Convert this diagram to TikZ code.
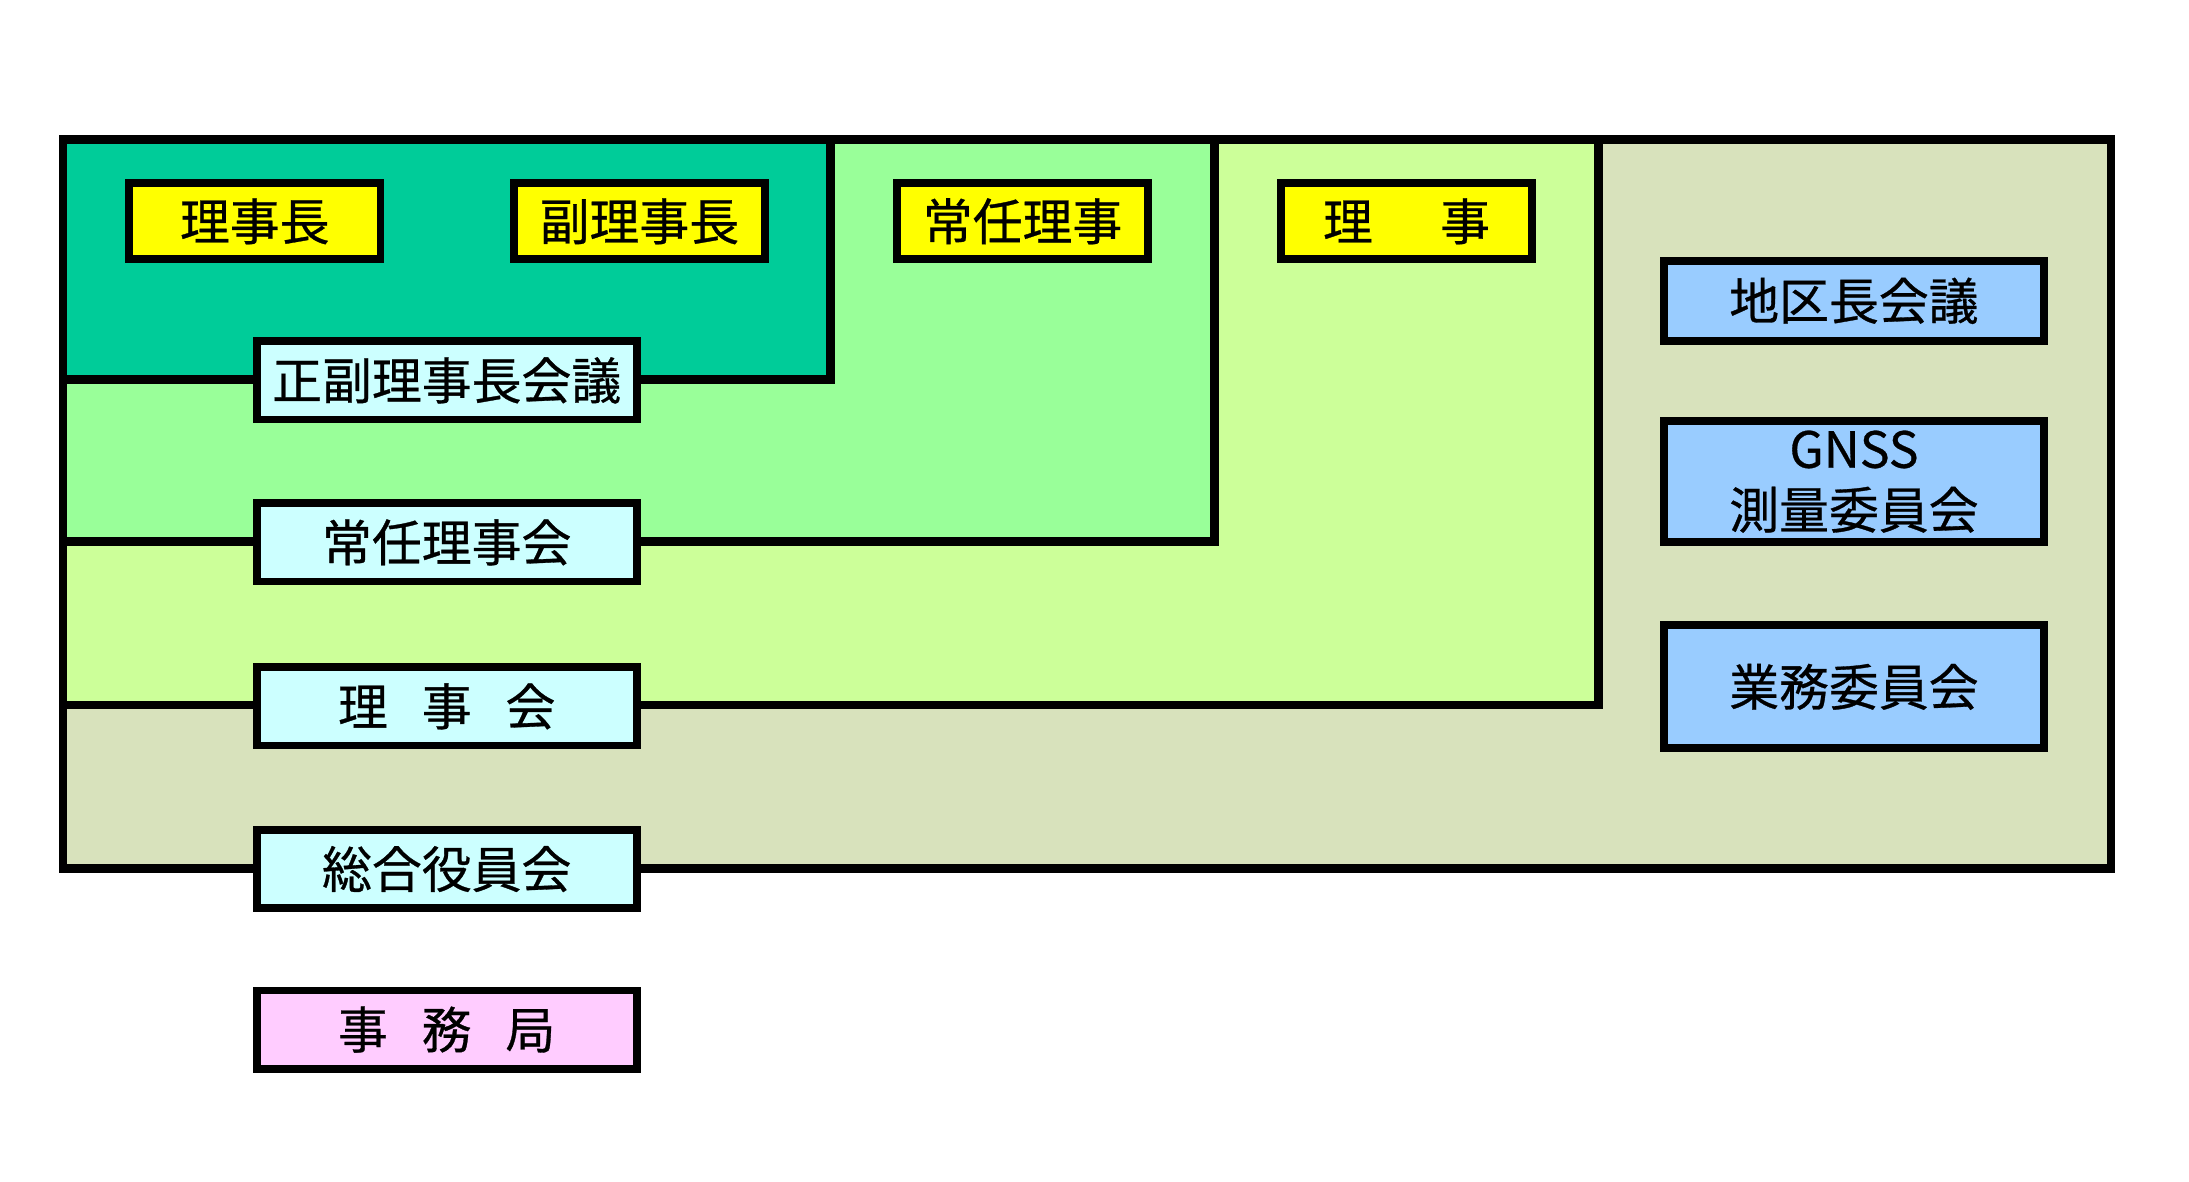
\documentclass[tikz,border=0pt]{standalone}
\usepackage{fontspec}
\newfontfamily\jpfont[FakeBold=0.6]{Noto Sans CJK JP}
\usepackage{tikz}
\usetikzlibrary{positioning}
\usepackage{xcolor}
\definecolor{darkgreen}{RGB}{0,204,153}
\definecolor{lightgreen}{RGB}{153,255,153}
\definecolor{yellowgreen}{RGB}{204,255,153}
\definecolor{olivebg}{RGB}{216,226,188}
\definecolor{postyellow}{RGB}{255,255,0}
\definecolor{councilcyan}{RGB}{204,255,255}
\definecolor{committeeblue}{RGB}{153,204,255}
\definecolor{officepink}{RGB}{255,204,255}

\begin{document}
\begin{tikzpicture}[x=0.0125cm, y=-0.0125cm,
    font=\jpfont\fontsize{12.7}{15.5}\selectfont,
    region/.style={draw, line width=2.2pt},
    post/.style={draw, line width=2pt, fill=postyellow, minimum width=2.25cm, minimum height=0.68cm, inner sep=0pt},
    council/.style={draw, line width=2pt, fill=councilcyan, minimum width=3.4cm, minimum height=0.7cm, inner sep=0pt},
    committee/.style={draw, line width=2pt, fill=committeeblue, minimum width=3.4cm, inner sep=0pt, align=center}
]
\useasboundingbox (0,0) rectangle (1568,846);

% nested regions
\draw[region, fill=olivebg] (45,100) rectangle (1512,622);
\draw[region, fill=yellowgreen] (45,100) rectangle (1145,505);
\draw[region, fill=lightgreen] (45,100) rectangle (870,388);
\draw[region, fill=darkgreen] (45,100) rectangle (595,272);

% posts
\node[post] (chair) at (182.5,158.5) {理事長};
\node[post] (vicechair) at (458,158.5) {副理事長};
\node[post] (standing) at (732.5,158.5) {常任理事};
\node[post] (director) at (1007.5,158.5) {理\hspace{1.35em}事};

% councils
\node[council] (chairmeet) at (320,272.5) {正副理事長会議};
\node[council] (standmeet) at (320,388.5) {常任理事会};
\node[council] (board) at (320,506) {理\hspace{0.68em}事\hspace{0.68em}会};
\node[council] (general) at (320,622.5) {総合役員会};
\node[council, fill=officepink] (office) at (320,737.5) {事\hspace{0.68em}務\hspace{0.68em}局};

% committees
\node[committee, minimum height=0.72cm] (district) at (1328,215.5) {地区長会議};
\node[committee, minimum height=1.08cm] (gnss) at (1328,345) {GNSS\\測量委員会};
\node[committee, minimum height=1.1cm] (business) at (1328,492) {業務委員会};
\end{tikzpicture}
\end{document}
